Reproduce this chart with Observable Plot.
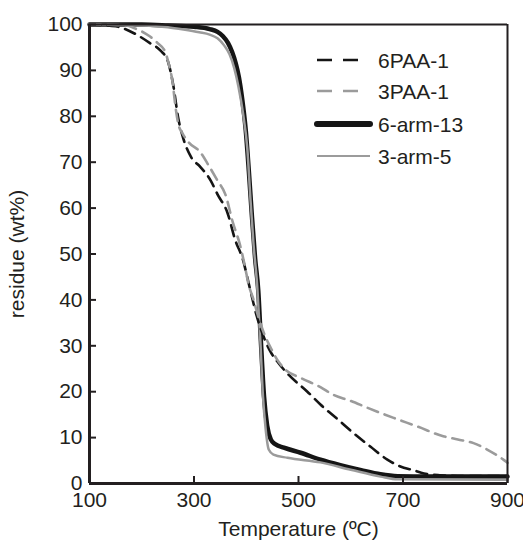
<!DOCTYPE html>
<html><head><meta charset="utf-8">
<script src="https://cdn.jsdelivr.net/npm/d3@7"></script>
<script src="https://cdn.jsdelivr.net/npm/@observablehq/plot@0.6"></script>
<style>body{margin:0;background:#fff} svg{display:block}</style>
</head><body><div id="chart"></div>
<script>
const xTicks = [100, 300, 500, 700, 900];
const yTicks = [0, 10, 20, 30, 40, 50, 60, 70, 80, 90, 100];

const seriesNames = ["6PAA-1", "3PAA-1", "6-arm-13", "3-arm-5"];

const temp6PAA = [100,150,185,215,236,250,260,270,280,295,312,332,345,364,379,393,408,420,430,445,462,481,517,542,580,605,638,670,695,720,740,770,820,900];
const res6PAA  = [100,99.6,98.1,96,94.3,92,87,79.5,75,71,69,66,63,59,53,49,42,36.5,33,29,26.2,23.7,20,17.2,13.5,11,8,5.2,3.7,2.9,2.2,1.8,1.6,1.6];

const temp3PAA = [100,170,188,213,230,245,251,259,265,270,278,290,312,328,345,360,374,388,398,404,414,424,433,447,462,475,504,542,567,600,632,682,728,777,805,835,861,892,900];
const res3PAA  = [100,99.8,99.1,97.6,96,94,91.7,87.4,81.7,78.3,76.3,74.3,72.2,69.3,66,63,57,52,47,43.6,40,36,33,29.5,26.5,24.8,23,21,19.3,18,16.5,14.3,12.4,10.3,9.6,8.8,7.4,5.2,4.5];

const temp6arm = [100,200,250,300,330,345,355,365,373,380,386,392,399,405,411,417,423,428,434,440,447,455,472,504,542,580,620,657,690,750,900];
const res6arm  = [100,100,99.8,99.5,99,98.4,97.5,96,94,91.5,88.5,84,77,68,58,49,42,31,19,12.6,9.6,8.6,7.8,6.7,5.2,4,2.9,2,1.6,1.5,1.5];

const temp3arm = [100,200,250,280,310,330,345,358,368,377,385,394,402,408,414,421,427,432,437,443,452,479,542,600,657,690,900];
const res3arm  = [100,99.8,99.4,98.9,98.3,97.8,97,95.4,93.5,90.5,86.5,80.5,73,62,52,43,31,19,12,7.4,6.3,5.6,4.6,3,1.5,0.9,0.8];

const toRows = (t, r) => t.map((T, i) => ({T, R: r[i]}));
const paa6 = toRows(temp6PAA, res6PAA);
const paa3 = toRows(temp3PAA, res3PAA);
const arm6 = toRows(temp6arm, res6arm);
const arm3 = toRows(temp3arm, res3arm);

const ink = "#231f20";
const grey = "#9b9b9b";
const font = "'Liberation Sans', Arial, sans-serif";

const chart = Plot.plot({
  width: 523, height: 543,
  marginLeft: 89, marginRight: 16, marginTop: 24, marginBottom: 60,
  x: {domain: [100, 900]},
  y: {domain: [0, 100]},
  style: {fontFamily: font, fontSize: "21px", color: ink, background: "#fff", overflow: "visible"},
  marks: [
    Plot.line(arm6, {x: "T", y: "R", stroke: "#151515", strokeWidth: 4.5, curve: "monotone-x"}),
    Plot.line(arm3, {x: "T", y: "R", stroke: grey, strokeWidth: 2.5, curve: "monotone-x"}),
    Plot.line(paa6, {x: "T", y: "R", stroke: "#151515", strokeWidth: 2.6, strokeDasharray: "11,7", curve: "monotone-x"}),
    Plot.line(paa3, {x: "T", y: "R", stroke: grey, strokeWidth: 2.6, strokeDasharray: "11,7", curve: "monotone-x"}),
    Plot.ruleY([100], {stroke: ink, strokeWidth: 2}),
    Plot.ruleX([900], {stroke: ink, strokeWidth: 2}),
    Plot.ruleX([100], {stroke: ink, strokeWidth: 3}),
    Plot.ruleY([0], {stroke: ink, strokeWidth: 3}),
    Plot.axisX({ticks: xTicks, tickSize: -7, tickPadding: 16, strokeWidth: 2, stroke: ink, fill: ink,
      label: "Temperature (ºC)", labelAnchor: "center", labelArrow: "none", labelOffset: 52}),
    Plot.axisY({ticks: yTicks, tickSize: -7, tickPadding: 14, strokeWidth: 2, stroke: ink, fill: ink,
      label: "residue (wt%)", labelAnchor: "center", labelArrow: "none", labelOffset: 80})
  ]
});
document.getElementById("chart").appendChild(chart);

// Legend
const svg = d3.select(chart);
const lg = svg.append("g").attr("font-family", font).attr("font-size", 21).attr("fill", ink).attr("text-anchor", "start");
const legendStyles = [
  {stroke: "#151515", w: 2.6, dash: "15,11", x2: 358},
  {stroke: grey, w: 2.6, dash: "15,11", x2: 358},
  {stroke: "#151515", w: 6, dash: null, x2: 370},
  {stroke: grey, w: 2, dash: null, x2: 370}
];
const rowY = [60, 91, 124, 156];
seriesNames.forEach((name, i) => {
  const s = legendStyles[i];
  const ln = lg.append("line").attr("x1", 317).attr("x2", s.x2).attr("y1", rowY[i]).attr("y2", rowY[i])
    .attr("stroke", s.stroke).attr("stroke-width", s.w);
  if (s.dash) ln.attr("stroke-dasharray", s.dash);
  if (i === 2) ln.attr("stroke-linecap", "round");
  lg.append("text").attr("x", 378).attr("y", rowY[i]).attr("dy", "0.36em").attr("text-anchor", "start").text(name);
});
</script></body></html>
